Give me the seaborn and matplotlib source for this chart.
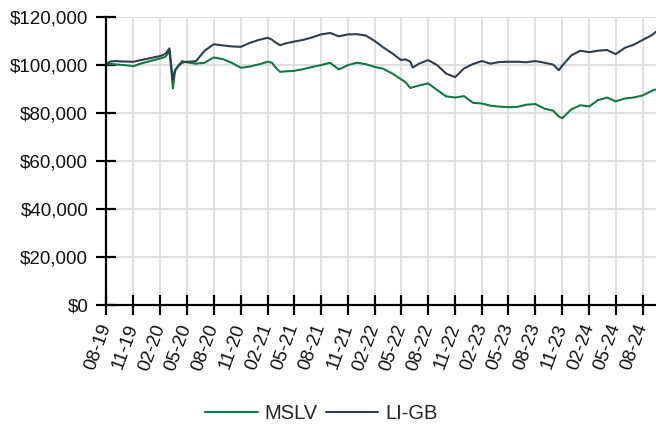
import pandas as pd
import numpy as np
import matplotlib
matplotlib.use('Agg')
import matplotlib.pyplot as plt
import matplotlib.dates as mdates
from matplotlib.ticker import FuncFormatter
import seaborn as sns

# Values (thousands of $)
dates = ['2019-08-01', '2019-08-15', '2019-09-01', '2019-10-01', '2019-11-01', '2019-12-01',
         '2020-01-01', '2020-02-01', '2020-02-15', '2020-02-20', '2020-03-03', '2020-03-08',
         '2020-03-15', '2020-03-22', '2020-04-01', '2020-04-15', '2020-05-01', '2020-06-01',
         '2020-07-01', '2020-08-01', '2020-09-01', '2020-10-01', '2020-11-01', '2020-12-01',
         '2021-01-01', '2021-02-01', '2021-02-15', '2021-03-01', '2021-03-15', '2021-04-01',
         '2021-05-01', '2021-06-01', '2021-07-01', '2021-08-01', '2021-09-01', '2021-10-01',
         '2021-11-01', '2021-12-01', '2022-01-01', '2022-02-01', '2022-03-01', '2022-04-01',
         '2022-05-01', '2022-05-15', '2022-06-01', '2022-06-10', '2022-07-01', '2022-08-01',
         '2022-09-01', '2022-10-01', '2022-11-01', '2022-12-01', '2023-01-01', '2023-02-01',
         '2023-03-01', '2023-04-01', '2023-05-01', '2023-06-01', '2023-07-01', '2023-08-01',
         '2023-09-01', '2023-10-01', '2023-10-20', '2023-11-01', '2023-12-01', '2024-01-01',
         '2024-02-01', '2024-03-01', '2024-04-01', '2024-05-01', '2024-06-01', '2024-07-01',
         '2024-08-01', '2024-09-01', '2024-09-15']

mslv = [100.2, 100.5, 100.3, 100.0, 99.6, 100.8,
        101.8, 102.8, 103.3, 103.7, 106.0, 100.0,
        90.3, 97.5, 99.5, 101.7, 101.2, 100.6,
        101.0, 103.2, 102.5, 101.0, 98.9, 99.4,
        100.3, 101.4, 101.0, 98.8, 97.2, 97.4,
        97.6, 98.3, 99.2, 100.0, 101.0, 98.2,
        100.0, 101.0, 100.4, 99.2, 98.5, 96.5,
        94.1, 93.0, 90.5, 90.8, 91.5, 92.4,
        89.6, 87.0, 86.5, 87.1, 84.3, 84.0,
        83.1, 82.7, 82.5, 82.6, 83.5, 83.8,
        81.9, 81.0, 78.6, 77.9, 81.5, 83.3,
        82.8, 85.4, 86.5, 84.9, 86.1, 86.5,
        87.4, 89.3, 89.9]

li_gb = [100.4, 101.5, 101.7, 101.5, 101.4, 102.2,
         103.0, 103.8, 104.5, 104.9, 107.0, 101.0,
         93.8, 97.9, 99.5, 101.0, 101.4, 101.6,
         106.0, 108.7, 108.2, 107.8, 107.6, 109.2,
         110.5, 111.4, 110.6, 109.3, 108.3, 109.0,
         109.8, 110.5, 111.5, 112.8, 113.4, 112.0,
         112.8, 112.9, 112.3, 110.0, 107.4, 104.9,
         102.1, 102.4, 101.5, 99.0, 100.6, 102.1,
         100.0, 96.5, 95.0, 98.6, 100.5, 101.7,
         100.6, 101.3, 101.4, 101.4, 101.2, 101.7,
         101.0, 100.2, 97.9, 99.8, 104.0, 106.0,
         105.4, 106.0, 106.3, 104.6, 107.2, 108.5,
         110.5, 112.5, 113.9]

series_names = ['MSLV', 'LI-GB']
colors = ['#127a43', '#2e3f4f']

df = pd.DataFrame({
    'date': pd.to_datetime(dates * 2),
    'value': np.array(mslv + li_gb) * 1000,
    'series': [series_names[0]] * len(dates) + [series_names[1]] * len(dates),
})

sns.set_style('white')
plt.rcParams['font.family'] = ['Liberation Sans', 'DejaVu Sans']

fig = plt.figure(figsize=(6.56, 4.28), dpi=100)
ax = fig.add_axes([0.162, 0.287, 0.838, 0.673])

sns.lineplot(data=df, x='date', y='value', hue='series', palette=colors,
             linewidth=1.5, ax=ax, legend=False)

ax.set_xlim(pd.Timestamp(dates[0]), pd.Timestamp(dates[-1]))
ax.set_ylim(0, 120000)
ax.set_yticks(range(0, 120001, 20000))
ax.yaxis.set_major_formatter(FuncFormatter(lambda v, p: f'${v:,.0f}'))
ax.xaxis.set_major_locator(mdates.MonthLocator(bymonth=[2, 5, 8, 11]))
ax.xaxis.set_major_formatter(mdates.DateFormatter('%m-%y'))

ax.grid(True, color='#d9d9d9', linewidth=1.2)
ax.set_axisbelow(True)
for s in ['top', 'right']:
    ax.spines[s].set_visible(False)
for s in ['left', 'bottom']:
    ax.spines[s].set_color('black')
    ax.spines[s].set_linewidth(1.6)

ax.tick_params(axis='both', bottom=True, left=True, direction='inout', length=14,
               width=1.6, color='black', labelsize=13.5, labelcolor='#111111')
ax.tick_params(axis='y', pad=6)
ax.tick_params(axis='x', pad=7)
for lbl in ax.get_xticklabels():
    lbl.set_rotation(70)
    lbl.set_ha('right')
    lbl.set_rotation_mode('anchor')
    lbl.set_va('center')

ax.set_xlabel('')
ax.set_ylabel('')

handles = [plt.Line2D([], [], color=c, linewidth=1.5) for c in colors]
fig.legend(handles, series_names, loc='lower center', bbox_to_anchor=(0.49, -0.03),
           ncol=2, frameon=False, fontsize=14.5, handlelength=2.6,
           handletextpad=0.35, columnspacing=0.4)

fig.savefig('out.png', dpi=100)
